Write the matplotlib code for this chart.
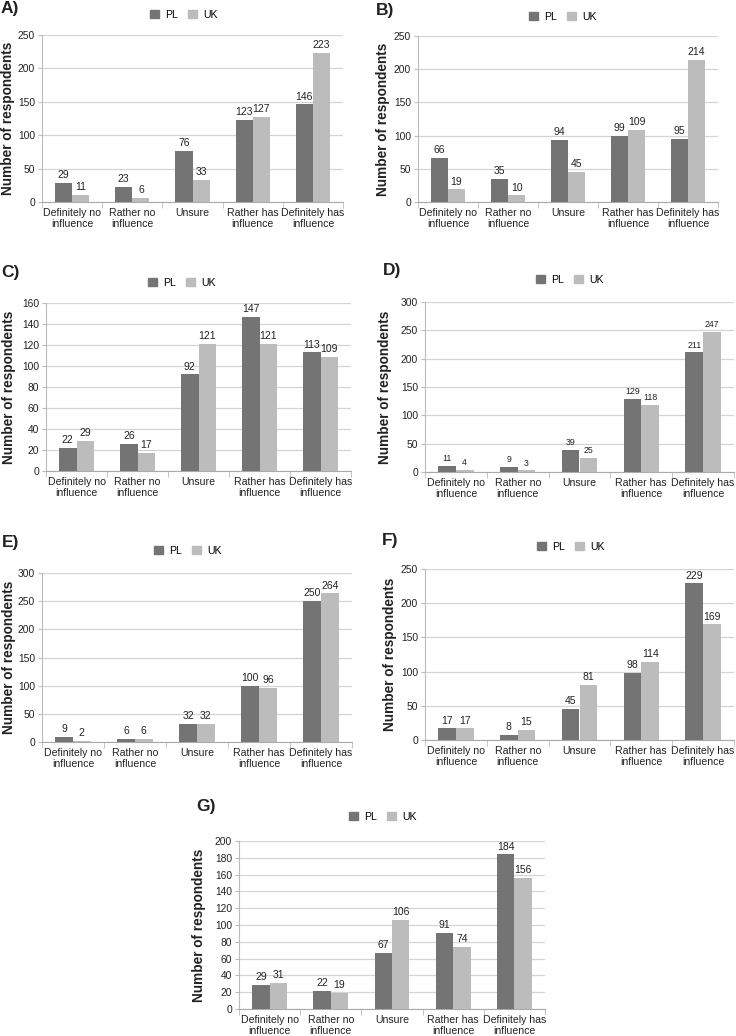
import matplotlib
matplotlib.use("Agg")
import matplotlib.pyplot as plt
import numpy as np
from matplotlib.patches import Patch

plt.rcParams['font.family'] = ['Liberation Sans', 'DejaVu Sans']

categories = ["Definitely no\ninfluence", "Rather no\ninfluence", "Unsure",
              "Rather has\ninfluence", "Definitely has\ninfluence"]
series_names = ["PL", "UK"]

pl_A = [29, 23, 76, 123, 146]
uk_A = [11, 6, 33, 127, 223]
pl_B = [66, 35, 94, 99, 95]
uk_B = [19, 10, 45, 109, 214]
pl_C = [22, 26, 92, 147, 113]
uk_C = [29, 17, 121, 121, 109]
pl_D = [11, 9, 39, 129, 211]
uk_D = [4, 3, 25, 118, 247]
pl_E = [9, 6, 32, 100, 250]
uk_E = [2, 6, 32, 96, 264]
pl_F = [17, 8, 45, 98, 229]
uk_F = [17, 15, 81, 114, 169]
pl_G = [29, 22, 67, 91, 184]
uk_G = [31, 19, 106, 74, 156]

panel_letters = ["A)", "B)", "C)", "D)", "E)", "F)", "G)"]
y_max = [250, 250, 160, 300, 300, 250, 200]
y_step = [50, 50, 20, 50, 50, 50, 20]

W, H = 736, 1036
fig = plt.figure(figsize=(W / 100, H / 100), dpi=100)

PL_COLOR = "#747474"
UK_COLOR = "#bcbcbc"

# layout in pixels: axes box (x0, x1, ytop, ybottom), legend centre,
# panel-letter position, y-label right edge, bar label size
layouts = [
    dict(box=(42, 343, 35, 202), leg=(184, 15), let=(1, 8), ylab=15, lab=7.5),
    dict(box=(418, 718, 36, 202), leg=(563, 17), let=(376, 10), ylab=390, lab=7.5),
    dict(box=(46, 351, 303, 471), leg=(182, 283), let=(1, 273), ylab=16, lab=7.5),
    dict(box=(425, 734, 302, 472), leg=(570, 280), let=(383, 270), ylab=392, lab=6.3),
    dict(box=(42, 352, 573, 742), leg=(188, 551), let=(2, 543), ylab=16, lab=7.5),
    dict(box=(425, 734, 569, 740), leg=(571, 547), let=(382, 540), ylab=397, lab=7.5),
    dict(box=(239, 545, 841, 1009), leg=(383, 817), let=(196, 807), ylab=206, lab=7.5),
]

pl_all = [pl_A, pl_B, pl_C, pl_D, pl_E, pl_F, pl_G]
uk_all = [uk_A, uk_B, uk_C, uk_D, uk_E, uk_F, uk_G]

x = np.arange(len(categories))
bw = 0.285

for i, lay in enumerate(layouts):
    x0, x1, yt, yb = lay["box"]
    ax = fig.add_axes([x0 / W, 1 - yb / H, (x1 - x0) / W, (yb - yt) / H])
    b1 = ax.bar(x - bw / 2, pl_all[i], bw, color=PL_COLOR, zorder=3)
    b2 = ax.bar(x + bw / 2, uk_all[i], bw, color=UK_COLOR, zorder=3)
    ax.bar_label(b1, padding=2, fontsize=lay["lab"], color="#222222")
    ax.bar_label(b2, padding=2, fontsize=lay["lab"], color="#222222")
    ax.set_xlim(-0.5, len(categories) - 0.5)
    ax.set_ylim(0, y_max[i])
    ax.set_yticks(np.arange(0, y_max[i] + 1, y_step[i]))
    ax.yaxis.grid(True, color="#d4d4d4", linewidth=0.9, zorder=0)
    ax.set_axisbelow(True)
    ax.set_xticks(x)
    ax.set_xticklabels(categories, fontsize=7.6, color="#222222", linespacing=1.15)
    ax.set_xticks(np.arange(-0.5, len(categories), 1), minor=True)
    ax.tick_params(axis="x", which="major", length=0, pad=4)
    ax.tick_params(axis="x", which="minor", length=4, color="#bbbbbb", direction="out")
    ax.tick_params(axis="y", length=3, color="#bbbbbb", labelsize=7.4, labelcolor="#222222", pad=2)
    for s in ["top", "right"]:
        ax.spines[s].set_visible(False)
    ax.spines["left"].set_color("#bbbbbb")
    ax.spines["bottom"].set_color("#aaaaaa")
    ax.set_ylabel("Number of respondents", fontsize=9.8, fontweight="bold", color="#222222")
    ax.yaxis.set_label_coords((lay["ylab"] - x0) / (x1 - x0), 0.5)

    lx, ly = lay["leg"]
    handles = [Patch(color=PL_COLOR), Patch(color=UK_COLOR)]
    fig.legend(handles, series_names, loc="center", bbox_to_anchor=(lx / W, 1 - ly / H),
               ncol=2, frameon=False, fontsize=7.6, handlelength=0.8, handleheight=0.8,
               handletextpad=0.6, columnspacing=1.0, borderpad=0)

    tx, ty = lay["let"]
    fig.text(tx / W, 1 - ty / H, panel_letters[i], fontsize=12.5, fontweight="bold",
             ha="left", va="center", color="#222222")

fig.savefig("out.png", dpi=100)
